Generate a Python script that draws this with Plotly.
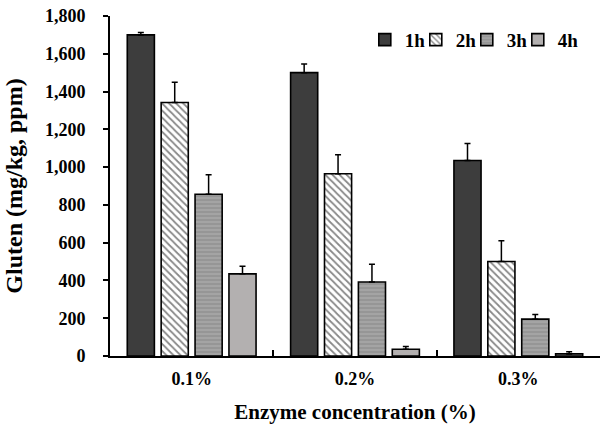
import plotly.graph_objects as go

categories = ["0.1%", "0.2%", "0.3%"]
series_names = ["1h", "2h", "3h", "4h"]
values_1h = [1700, 1500, 1035]
values_2h = [1342, 965, 500]
values_3h = [856, 392, 195]
values_4h = [435, 36, 11]
err_1h = [12, 46, 90]
err_2h = [107, 100, 110]
err_3h = [104, 94, 25]
err_4h = [40, 14, 11]
y_ticks = [0, 200, 400, 600, 800, 1000, 1200, 1400, 1600, 1800]

FONT = "Liberation Serif"

styles = [
    dict(color="#3d3d3d"),
    dict(color="white", pattern=dict(shape="\\", fgcolor="#111111", bgcolor="white", size=5, solidity=0.35)),
    dict(color="#9e9e9e", pattern=dict(shape="-", fgcolor="#c4c4c4", bgcolor="#969696", size=4, solidity=0.3)),
    dict(color="#b3b0b0"),
]
vals = [values_1h, values_2h, values_3h, values_4h]
errs = [err_1h, err_2h, err_3h, err_4h]

fig = go.Figure()
for name, v, e, st in zip(series_names, vals, errs, styles):
    marker = dict(color=st["color"], line=dict(color="black", width=1.6))
    if "pattern" in st:
        marker["pattern"] = st["pattern"]
    fig.add_trace(go.Bar(
        x=categories, y=v, name=name, marker=marker,
        error_y=dict(type="data", array=e, arrayminus=[0]*len(e), symmetric=False,
                     color="black", thickness=1.5, width=3),
    ))

# invisible spacer entry so the last legend label is not clipped
fig.add_trace(go.Scatter(x=[None], y=[None], mode="markers", name=" ",
                         marker=dict(opacity=0, color="white"), hoverinfo="skip"))

fig.update_layout(
    width=600, height=430,
    margin=dict(l=110, r=0, t=16, b=74, autoexpand=False),
    paper_bgcolor="white", plot_bgcolor="white",
    barmode="group", bargap=0.17, bargroupgap=0.2,
    font=dict(family=FONT, size=18, color="black", weight="bold"),
    showlegend=True,
    legend=dict(orientation="h", x=0.52, y=0.93, xanchor="left", yanchor="middle",
                font=dict(family=FONT, size=19, weight="bold"),
                bgcolor="rgba(0,0,0,0)", itemwidth=30,
                entrywidth=6, entrywidthmode="pixels"),
    xaxis=dict(
        type="category", range=[-0.5, len(categories) - 0.5],
        showline=True, linecolor="black", linewidth=2,
        ticks="inside", tickson="boundaries", ticklen=6, tickcolor="black", tickwidth=1.5,
        ticklabelstandoff=5,
        tickfont=dict(family=FONT, size=18, weight="bold"),
        title=dict(text="Enzyme concentration (%)", font=dict(family=FONT, size=21, weight="bold"), standoff=17),
        showgrid=False,
    ),
    yaxis=dict(
        range=[0, 1800], tickvals=y_ticks, tickformat=",d",
        showline=True, linecolor="black", linewidth=2,
        ticks="outside", ticklen=5, tickcolor="black", tickwidth=1.5,
        ticklabelstandoff=14,
        tickfont=dict(family=FONT, size=18, weight="bold"),
        title=dict(text="Gluten (mg/kg, ppm)", font=dict(family=FONT, size=24, weight="bold"), standoff=16),
        showgrid=False, zeroline=False,
    ),
)

fig.write_html("out.html", config={"displayModeBar": False},
               post_script="document.body.style.margin='0';")
